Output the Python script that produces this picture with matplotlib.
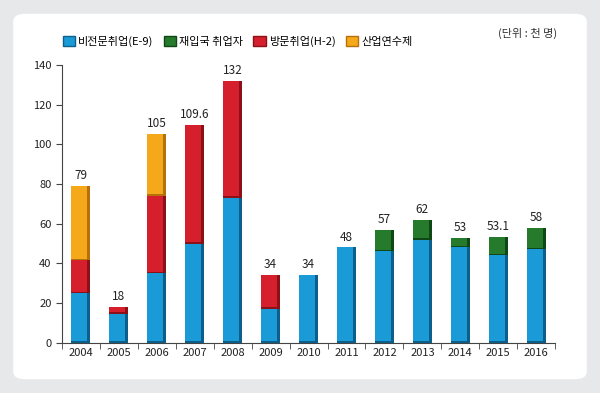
import matplotlib.pyplot as plt
from matplotlib.patches import FancyBboxPatch, Patch
import numpy as np

plt.rcParams['font.family'] = ['Noto Sans CJK KR', 'DejaVu Sans']

years = ['2004', '2005', '2006', '2007', '2008', '2009', '2010',
         '2011', '2012', '2013', '2014', '2015', '2016']
e9 = [25, 14.5, 35, 50, 73, 17, 34, 48, 46, 52, 48, 44, 47]          # 비전문취업
reentry = [0, 0, 0, 0, 0, 0, 0, 0, 11, 10, 5, 9.1, 11]              # 재입국 취업자
h2 = [16.5, 3.5, 39, 59.6, 59, 17, 0, 0, 0, 0, 0, 0, 0]             # 방문취업
trainee = [37.5, 0, 31, 0, 0, 0, 0, 0, 0, 0, 0, 0, 0]               # 산업연수제
totals = ['79', '18', '105', '109.6', '132', '34', '34', '48', '57', '62', '53', '53.1', '58']

names = ['비전문취업(E-9)', '재입국 취업자', '방문취업(H-2)', '산업연수제']
colors = ['#1a9bd7', '#267a2c', '#d61f2c', '#f6a81b']
darks = ['#0c5f8a', '#0f4716', '#8c1018', '#b5700a']

fig = plt.figure(figsize=(6, 3.93), dpi=100)
fig.patch.set_facecolor('#e7e8ea')
fig.patches.append(FancyBboxPatch((0.022, 0.035), 0.956, 0.93,
                                  boxstyle='round,pad=0,rounding_size=0.02',
                                  transform=fig.transFigure, facecolor='white',
                                  edgecolor='none', zorder=-10))

ax = fig.add_axes([0.1033, 0.128, 0.822, 0.7066])
ax.set_facecolor('none')
x = np.arange(len(years))
w = 0.5
bottom = np.zeros(len(years))
# stacking order: blue, green, red, orange
for vals, c, d in zip([e9, reentry, h2, trainee], colors, darks):
    vals = np.array(vals)
    ax.bar(x, vals, w, bottom=bottom, color=c, edgecolor='none', zorder=2)
    # darker right edge + thin dark base line for the 3d look
    ax.bar(x + w / 2 - 0.04, vals, 0.08, bottom=bottom, color=d, edgecolor='none', zorder=3)
    ax.bar(x, np.where(vals > 0, 0.8, 0), w, bottom=bottom, color=d, edgecolor='none', zorder=3)
    bottom += vals

for xi, t, lab in zip(x, bottom, totals):
    ax.text(xi, t + 2, lab, ha='center', va='bottom', fontsize=8.5, color='#222222')

ax.set_xlim(-0.5, len(years) - 0.5)
ax.set_ylim(0, 140)
ax.set_yticks(range(0, 141, 20))
ax.set_xticks(x)
ax.set_xticklabels(years)
ax.set_xticks(np.arange(-0.5, len(years), 1), minor=True)
ax.tick_params(axis='x', which='major', length=0, labelsize=8, pad=4, colors='#222222')
ax.tick_params(axis='x', which='minor', length=4, direction='out', color='#444444')
ax.tick_params(axis='y', length=4, labelsize=8, colors='#222222', color='#444444')
for s in ['top', 'right']:
    ax.spines[s].set_visible(False)
for s in ['left', 'bottom']:
    ax.spines[s].set_color('#444444')
    ax.spines[s].set_linewidth(0.8)

handles = [Patch(facecolor=c, edgecolor=d) for c, d in zip(colors, darks)]
fig.legend(handles, names, loc='upper left', bbox_to_anchor=(0.088, 0.935), ncol=4,
           frameon=False, fontsize=8, handlelength=1.1, handleheight=1.1,
           handletextpad=0.3, columnspacing=0.9)
fig.text(0.928, 0.915, '(단위 : 천 명)', ha='right', va='center', fontsize=8, color='#333333')

fig.savefig('out.png', dpi=100, facecolor=fig.get_facecolor())
